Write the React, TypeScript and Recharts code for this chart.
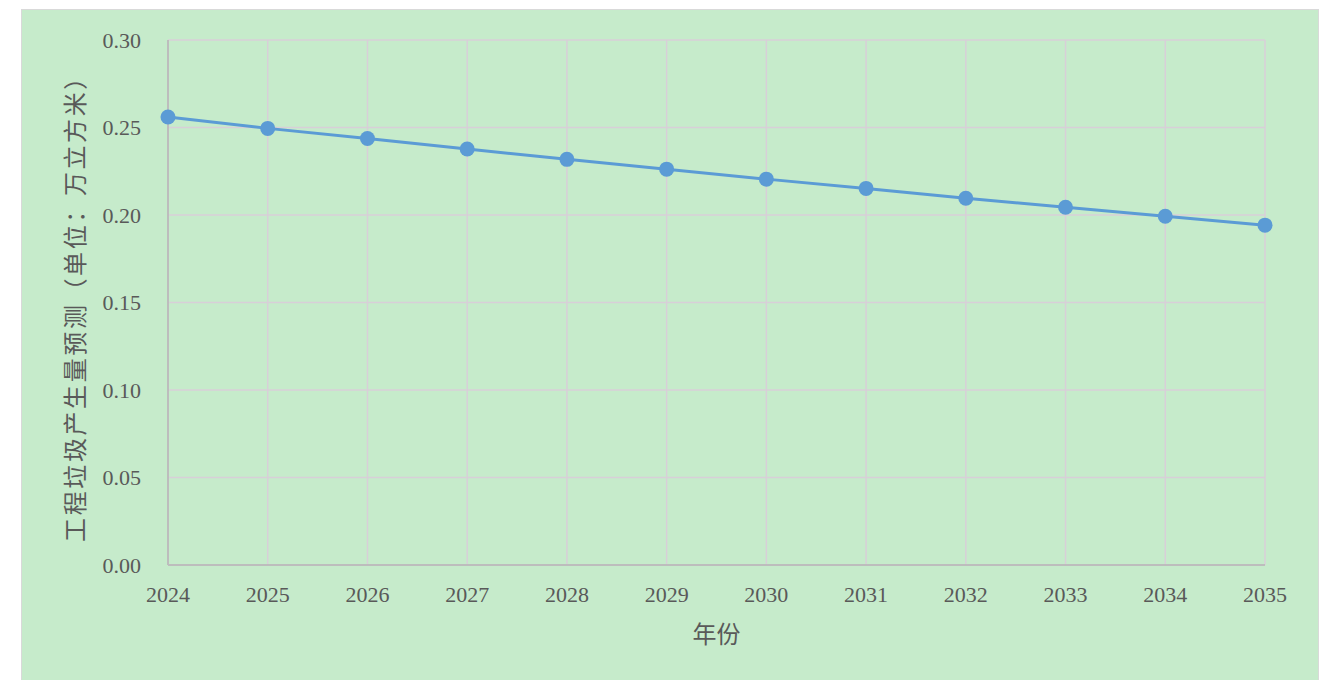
import React from 'react';
import { LineChart, Line, XAxis, YAxis, CartesianGrid } from 'recharts';

const years = ['2024', '2025', '2026', '2027', '2028', '2029', '2030', '2031', '2032', '2033', '2034', '2035'];
const volumes = [0.256, 0.2495, 0.2437, 0.2377, 0.2318, 0.2262, 0.2205, 0.2152, 0.2096, 0.2044, 0.1993, 0.1942];
const yTicks = [0, 0.05, 0.1, 0.15, 0.2, 0.25, 0.3];

const xTitle = '年份';
const yTitle = '工程垃圾产生量预测（单位：万立方米）';

const data = years.map((year, i) => ({ year, value: volumes[i] }));

const tickStyle = { fill: '#595959', fontSize: 22, fontFamily: '"Liberation Serif", serif' };
const titleFont = '"Noto Sans CJK SC", sans-serif';

const YTitle = (props: any) => {
  const { viewBox } = props;
  const cx = viewBox.x + 51;
  const cy = viewBox.y + viewBox.height / 2;
  return (
    <text
      x={cx}
      y={cy}
      transform={`rotate(-90, ${cx}, ${cy})`}
      textAnchor="middle"
      dominantBaseline="central"
      fill="#595959"
      fontSize={24}
      letterSpacing={2.6}
      fontFamily={titleFont}
    >
      {yTitle}
    </text>
  );
};

const XTitle = (props: any) => {
  const { viewBox } = props;
  const cx = viewBox.x + viewBox.width / 2;
  const cy = viewBox.y + 67;
  return (
    <text
      x={cx}
      y={cy}
      textAnchor="middle"
      dominantBaseline="central"
      fill="#595959"
      fontSize={24}
      fontFamily={titleFont}
    >
      {xTitle}
    </text>
  );
};

const App: React.FC = () => {
  return (
    <div
      style={{
        position: 'absolute',
        left: 21,
        top: 9,
        width: 1296,
        height: 671,
        background: '#c6ebcb',
        border: '1px solid #d9d9d9',
      }}
    >
      <LineChart width={1296} height={671} data={data} margin={{ top: 30, right: 53, left: 0, bottom: 0 }}>
        <CartesianGrid stroke="#d8cfd8" strokeWidth={1.5} />
        <XAxis
          dataKey="year"
          height={116}
          stroke="#bdbdbd"
          strokeWidth={2}
          tickLine={false}
          tickSize={0}
          tickMargin={21}
          tick={tickStyle}
          interval={0}
          label={<XTitle />}
        />
        <YAxis
          width={146}
          domain={[0, 0.3]}
          ticks={yTicks}
          tickFormatter={(v: number) => v.toFixed(2)}
          stroke="#bdbdbd"
          strokeWidth={2}
          tickLine={false}
          tickSize={0}
          tickMargin={27}
          tick={tickStyle}
          label={<YTitle />}
        />
        <Line
          type="linear"
          dataKey="value"
          stroke="#5b9bd5"
          strokeWidth={3}
          dot={{ r: 7.5, fill: '#5b9bd5', stroke: '#5b9bd5', strokeWidth: 0 }}
          activeDot={false}
          isAnimationActive={false}
        />
      </LineChart>
    </div>
  );
};

export default App;
